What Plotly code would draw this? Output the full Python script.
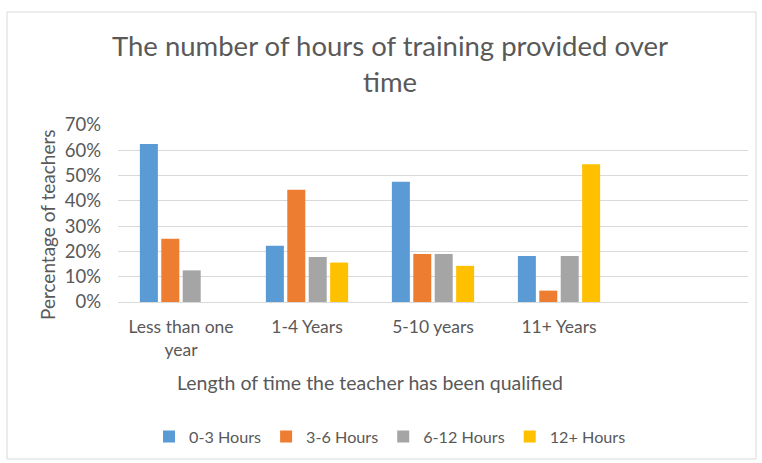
import plotly.graph_objects as go

categories = ["Less than one<br>year", "1-4 Years", "5-10 years", "11+ Years"]
series_names = ["0-3 Hours", "3-6 Hours", "6-12 Hours", "12+ Hours"]
v_0_3 = [0.625, 0.222, 0.476, 0.182]
v_3_6 = [0.25, 0.444, 0.190, 0.045]
v_6_12 = [0.125, 0.178, 0.190, 0.182]
v_12p = [0.0, 0.156, 0.143, 0.545]
colors = ["#5B9BD5", "#ED7D31", "#A5A5A5", "#FFC000"]
y_ticks = [0, 0.1, 0.2, 0.3, 0.4, 0.5, 0.6, 0.7]

FONT = "Lato"
GREY = "#595959"

fig = go.Figure()
for name, vals, col in zip(series_names, [v_0_3, v_3_6, v_6_12, v_12p], colors):
    fig.add_trace(go.Bar(name=name, x=categories, y=vals, marker_color=col,
                         marker_line_width=0))

W, H = 762, 463
L, R, T, B = 118, 14, 125, 161
pw, ph = W - L - R, H - T - B

def px(x):
    return (x - L) / pw

def py(y):
    return (H - B - y) / ph

fig.update_layout(
    width=W, height=H,
    margin=dict(l=L, r=R, t=T, b=B),
    paper_bgcolor="white", plot_bgcolor="white",
    barmode="group", bargap=0.32, bargroupgap=0.16,
    font=dict(family=FONT, color=GREY, size=15),
    title=dict(text="The number of hours of training provided over<br>time",
               x=390 / W, xanchor="center", xref="container",
               y=1 - 56 / H, yanchor="middle", yref="container",
               font=dict(size=27.5, color=GREY, family=FONT)),
    showlegend=True,
    legend=dict(orientation="h", x=390 / W, xanchor="center", xref="container",
                y=1 - 437 / H, yanchor="middle", yref="container",
                font=dict(size=16.2, color=GREY), itemwidth=30,
                traceorder="normal"),
    xaxis=dict(range=[-0.5, 4.5], showgrid=False, showline=True,
               linecolor="#D9D9D9", linewidth=1, ticks="",
               tickfont=dict(size=17.5, color=GREY), ticklabelstandoff=9,
               fixedrange=True),
    yaxis=dict(range=[0, 0.7], tickvals=y_ticks, tickformat=".0%",
               showgrid=True, gridcolor="#D9D9D9", gridwidth=1,
               zeroline=False, showline=False, ticks="",
               tickfont=dict(size=18.5, color=GREY), ticklabelstandoff=16,
               fixedrange=True),
    shapes=[dict(type="rect", xref="paper", yref="paper",
                 x0=px(7), x1=px(756), y0=py(459), y1=py(12),
                 line=dict(color="#D9D9D9", width=1), fillcolor="rgba(0,0,0,0)",
                 layer="below")],
    annotations=[
        dict(text="Percentage of teachers", textangle=-90, xref="paper", yref="paper",
             x=px(47), y=py(225), showarrow=False, xanchor="center", yanchor="middle",
             font=dict(size=19, color=GREY)),
        dict(text="Length of time the teacher has been qualified", xref="paper", yref="paper",
             x=px(370), y=py(382), showarrow=False, xanchor="center", yanchor="middle",
             font=dict(size=19.5, color=GREY)),
    ],
)

fig.write_html("out.html", config={"displayModeBar": False},
               post_script="document.body.style.margin='0px';")
